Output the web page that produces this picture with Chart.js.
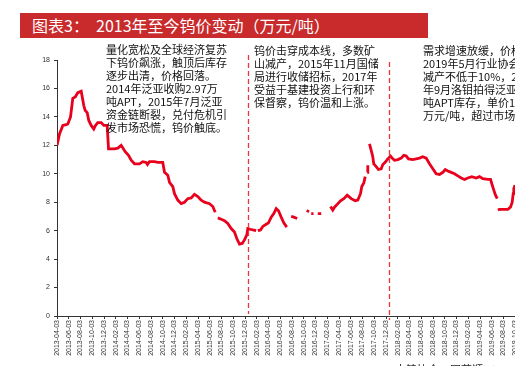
<!DOCTYPE html>
<html>
<head>
<meta charset="utf-8">
<script src="https://cdn.jsdelivr.net/npm/chart.js@4.4.0/dist/chart.umd.min.js"></script>
<style>
  body { margin:0; width:515px; height:366px; overflow:hidden; background:#fff; position:relative; }
  #wrap { position:absolute; left:0; top:0; }
  .title { position:absolute; left:20px; top:13px; width:396px; height:25px; padding-left:12px;
           background:#c92a2c; color:#fff; font:16px "Noto Sans CJK SC", sans-serif; line-height:25px; white-space:pre; }
  .note { position:absolute; font:11px "Noto Sans CJK SC", sans-serif; line-height:13px; color:#111; white-space:pre; }
  .src { position:absolute; left:395px; top:361px; font:11px "Noto Sans CJK SC", sans-serif; color:#222; white-space:pre; }
</style>
</head>
<body>
<div id="wrap"><canvas id="tungstenChart" width="540" height="366"></canvas></div>
<div class="title">图表3：  2013年至今钨价变动（万元/吨）</div>
<div class="note" style="left:106px;top:43px;">量化宽松及全球经济复苏
下钨价飙涨，触顶后库存
逐步出清，价格回落。
2014年泛亚收购2.97万
吨APT，2015年7月泛亚
资金链断裂，兑付危机引
发市场恐慌，钨价触底。</div>
<div class="note" style="left:254px;top:44px;">钨价击穿成本线，多数矿
山减产，2015年11月国储
局进行收储招标，2017年
受益于基建投资上行和环
保督察，钨价温和上涨。</div>
<div class="note" style="left:423px;top:44px;">需求增速放缓，价格回落。
2019年5月行业协会倡议
减产不低于10%，2019
年9月洛钼拍得泛亚2.8万
吨APT库存，单价15.25
万元/吨，超过市场预期。</div>
<div class="src">中钨协会，同花顺iFinD，中泰证券研究所</div>
<script>
// x轴刻度（每两个月一个）
var tickLabels = ['2013-04-03','2013-06-03','2013-08-03','2013-10-03','2013-12-03',
  '2014-02-03','2014-04-03','2014-06-03','2014-08-03','2014-10-03','2014-12-03',
  '2015-02-03','2015-04-03','2015-06-03','2015-08-03','2015-10-03','2015-12-03',
  '2016-02-03','2016-04-03','2016-06-03','2016-08-03','2016-10-03','2016-12-03',
  '2017-02-03','2017-04-03','2017-06-03','2017-08-03','2017-10-03','2017-12-03',
  '2018-02-03','2018-04-03','2018-06-03','2018-08-03','2018-10-03','2018-12-03',
  '2019-02-03','2019-04-03','2019-06-03','2019-08-03','2019-10-03','2019-12-03'];

// 距2013-04-03的月数
var months = [0,0.43,0.99,1.57,1.84,2.3,2.69,3.1,3.54,4.12,4.56,4.8,5.14,5.41,5.82,6.26,6.55,6.94,7.52,7.97,8.54,
  8.77,9.79,10.35,10.93,11.61,12.17,12.63,13.19,14.04,14.6,15.18,15.4,15.74,16.6,17.16,18.0,18.3,18.86,19.15,19.71,
  20.0,20.56,21.14,21.7,22.26,22.84,23.4,23.97,24.54,25.1,25.96,26.52,26.93,27.1,
  27.37,27.95,28.51,29.07,29.65,30.21,30.6,31.06,31.52,31.91,32.31,32.48,32.88,33.33,33.9,34.0,
  34.18,34.64,35.03,35.61,36.0,36.46,36.9,37.31,37.7,38.16,38.6,39.11,39.5,
  39.86,40.31,40.88,41.5,
  42.59,42.81,43.0,
  43.27,43.66,44.0,
  44.39,44.97,45.6,
  46.55,46.94,47.23,47.69,48.26,48.82,49.4,50.08,50.76,51.2,51.66,51.88,52.22,52.46,52.6,
  52.8,52.9,53.0,
  53.19,53.48,53.75,53.92,54.33,54.72,55.18,55.46,55.86,56.31,56.77,57.16,57.45,58.01,58.59,59.03,59.44,59.83,
  60.56,61.14,61.7,62.26,62.84,63.4,63.97,64.54,65.11,65.67,66.08,66.52,67.1,67.66,68.22,68.8,69.36,69.92,
  70.6,71.35,71.91,72.48,73.33,73.79,74.01,74.35,74.59,74.93,74.98,
  75.03,75.32,76.74,77.19,77.48,77.65,77.75,77.96];

// 钨价（万元/吨），null 为缺失
var prices = [12.0,12.8,13.4,13.45,13.5,14.0,15.3,15.4,15.7,15.8,14.8,14.45,14.3,13.75,13.4,13.15,13.4,13.6,13.6,13.4,13.4,
  11.75,11.75,11.8,12.0,11.55,11.3,10.95,10.7,10.7,10.85,10.8,10.65,10.85,10.85,10.8,10.8,10.1,9.9,9.4,9.1,
  8.6,8.15,7.9,8.0,8.25,8.3,8.55,8.4,8.15,8.0,7.9,7.7,7.3,null,
  6.9,6.8,6.7,6.5,6.15,5.9,5.45,5.05,5.1,5.35,5.7,6.15,6.1,6.05,6.0,null,
  6.0,6.05,6.3,6.45,6.55,6.95,7.2,7.55,7.4,6.95,6.55,6.25,null,
  7.0,6.95,6.85,null,
  7.3,7.45,null,
  7.2,7.2,null,
  7.2,7.2,null,
  7.7,7.45,7.65,7.85,8.1,8.25,8.5,8.25,8.1,8.15,8.6,9.1,9.35,9.8,null,
  10.1,10.6,null,
  12.1,11.65,11.2,10.7,10.5,10.3,10.35,10.65,10.8,11.05,11.25,11.05,10.95,11.0,11.1,11.3,11.25,11.05,
  11.0,11.05,11.1,11.2,11.1,10.7,10.35,10.0,9.95,10.1,10.3,10.2,10.1,10.0,9.85,9.7,9.6,9.7,
  9.8,9.7,9.8,9.65,9.6,9.6,9.3,8.85,8.55,8.25,null,
  7.45,7.5,7.5,7.65,8.0,8.6,8.95,9.2];

// 两个阶段分界（月数）
var eventMonths = [32.46, 56.48];

var points = [];
for (var i = 0; i < months.length; i++) {
  points.push({x: months[i], y: prices[i]});
}

var dashLines = {
  id: 'dashLines',
  afterDatasetsDraw: function(chart) {
    var ctx = chart.ctx;
    var xs = chart.scales.x;
    var area = chart.chartArea;
    var tops = [area.top - 5, area.top + 2];
    ctx.save();
    ctx.strokeStyle = '#f0343c';
    ctx.lineWidth = 1.3;
    ctx.setLineDash([5, 3]);
    for (var k = 0; k < eventMonths.length; k++) {
      var px = Math.round(xs.getPixelForValue(eventMonths[k])) + 0.5;
      ctx.beginPath();
      ctx.moveTo(px, tops[k]);
      ctx.lineTo(px, area.bottom + (k == 1 ? 4 : -2));
      ctx.stroke();
    }
    ctx.restore();
  }
};

Chart.defaults.font.family = '"Liberation Sans", Arial, sans-serif';
var chart = new Chart(document.getElementById('tungstenChart'), {
  type: 'line',
  data: {
    datasets: [{
      data: points,
      borderColor: '#e8001c',
      borderWidth: 2.8,
      pointRadius: 0,
      spanGaps: false,
      tension: 0
    }]
  },
  options: {
    responsive: false,
    animation: false,
    devicePixelRatio: 1,
    layout: { padding: { top: 60, right: 13, left: 0, bottom: 0 } },
    plugins: { legend: { display: false }, tooltip: { enabled: false } },
    scales: {
      x: {
        type: 'linear', min: 0, max: 80,
        afterFit: function(s) { s.height = 50; },
        border: { color: '#333', width: 1 },
        grid: { drawOnChartArea: false, tickLength: 3, color: '#333' },
        ticks: {
          stepSize: 2, autoSkip: false, minRotation: 90, maxRotation: 90, padding: 1,
          color: '#333', font: { size: 7 },
          callback: function(v) { return tickLabels[v / 2]; }
        }
      },
      y: {
        min: 0, max: 18,
        afterFit: function(s) { s.width = 57; },
        border: { color: '#333', width: 1 },
        grid: { drawOnChartArea: false, tickLength: 3, color: '#333' },
        ticks: { stepSize: 2, padding: 4, color: '#333', font: { size: 7 } }
      }
    }
  },
  plugins: [dashLines]
});
</script>
</body>
</html>
